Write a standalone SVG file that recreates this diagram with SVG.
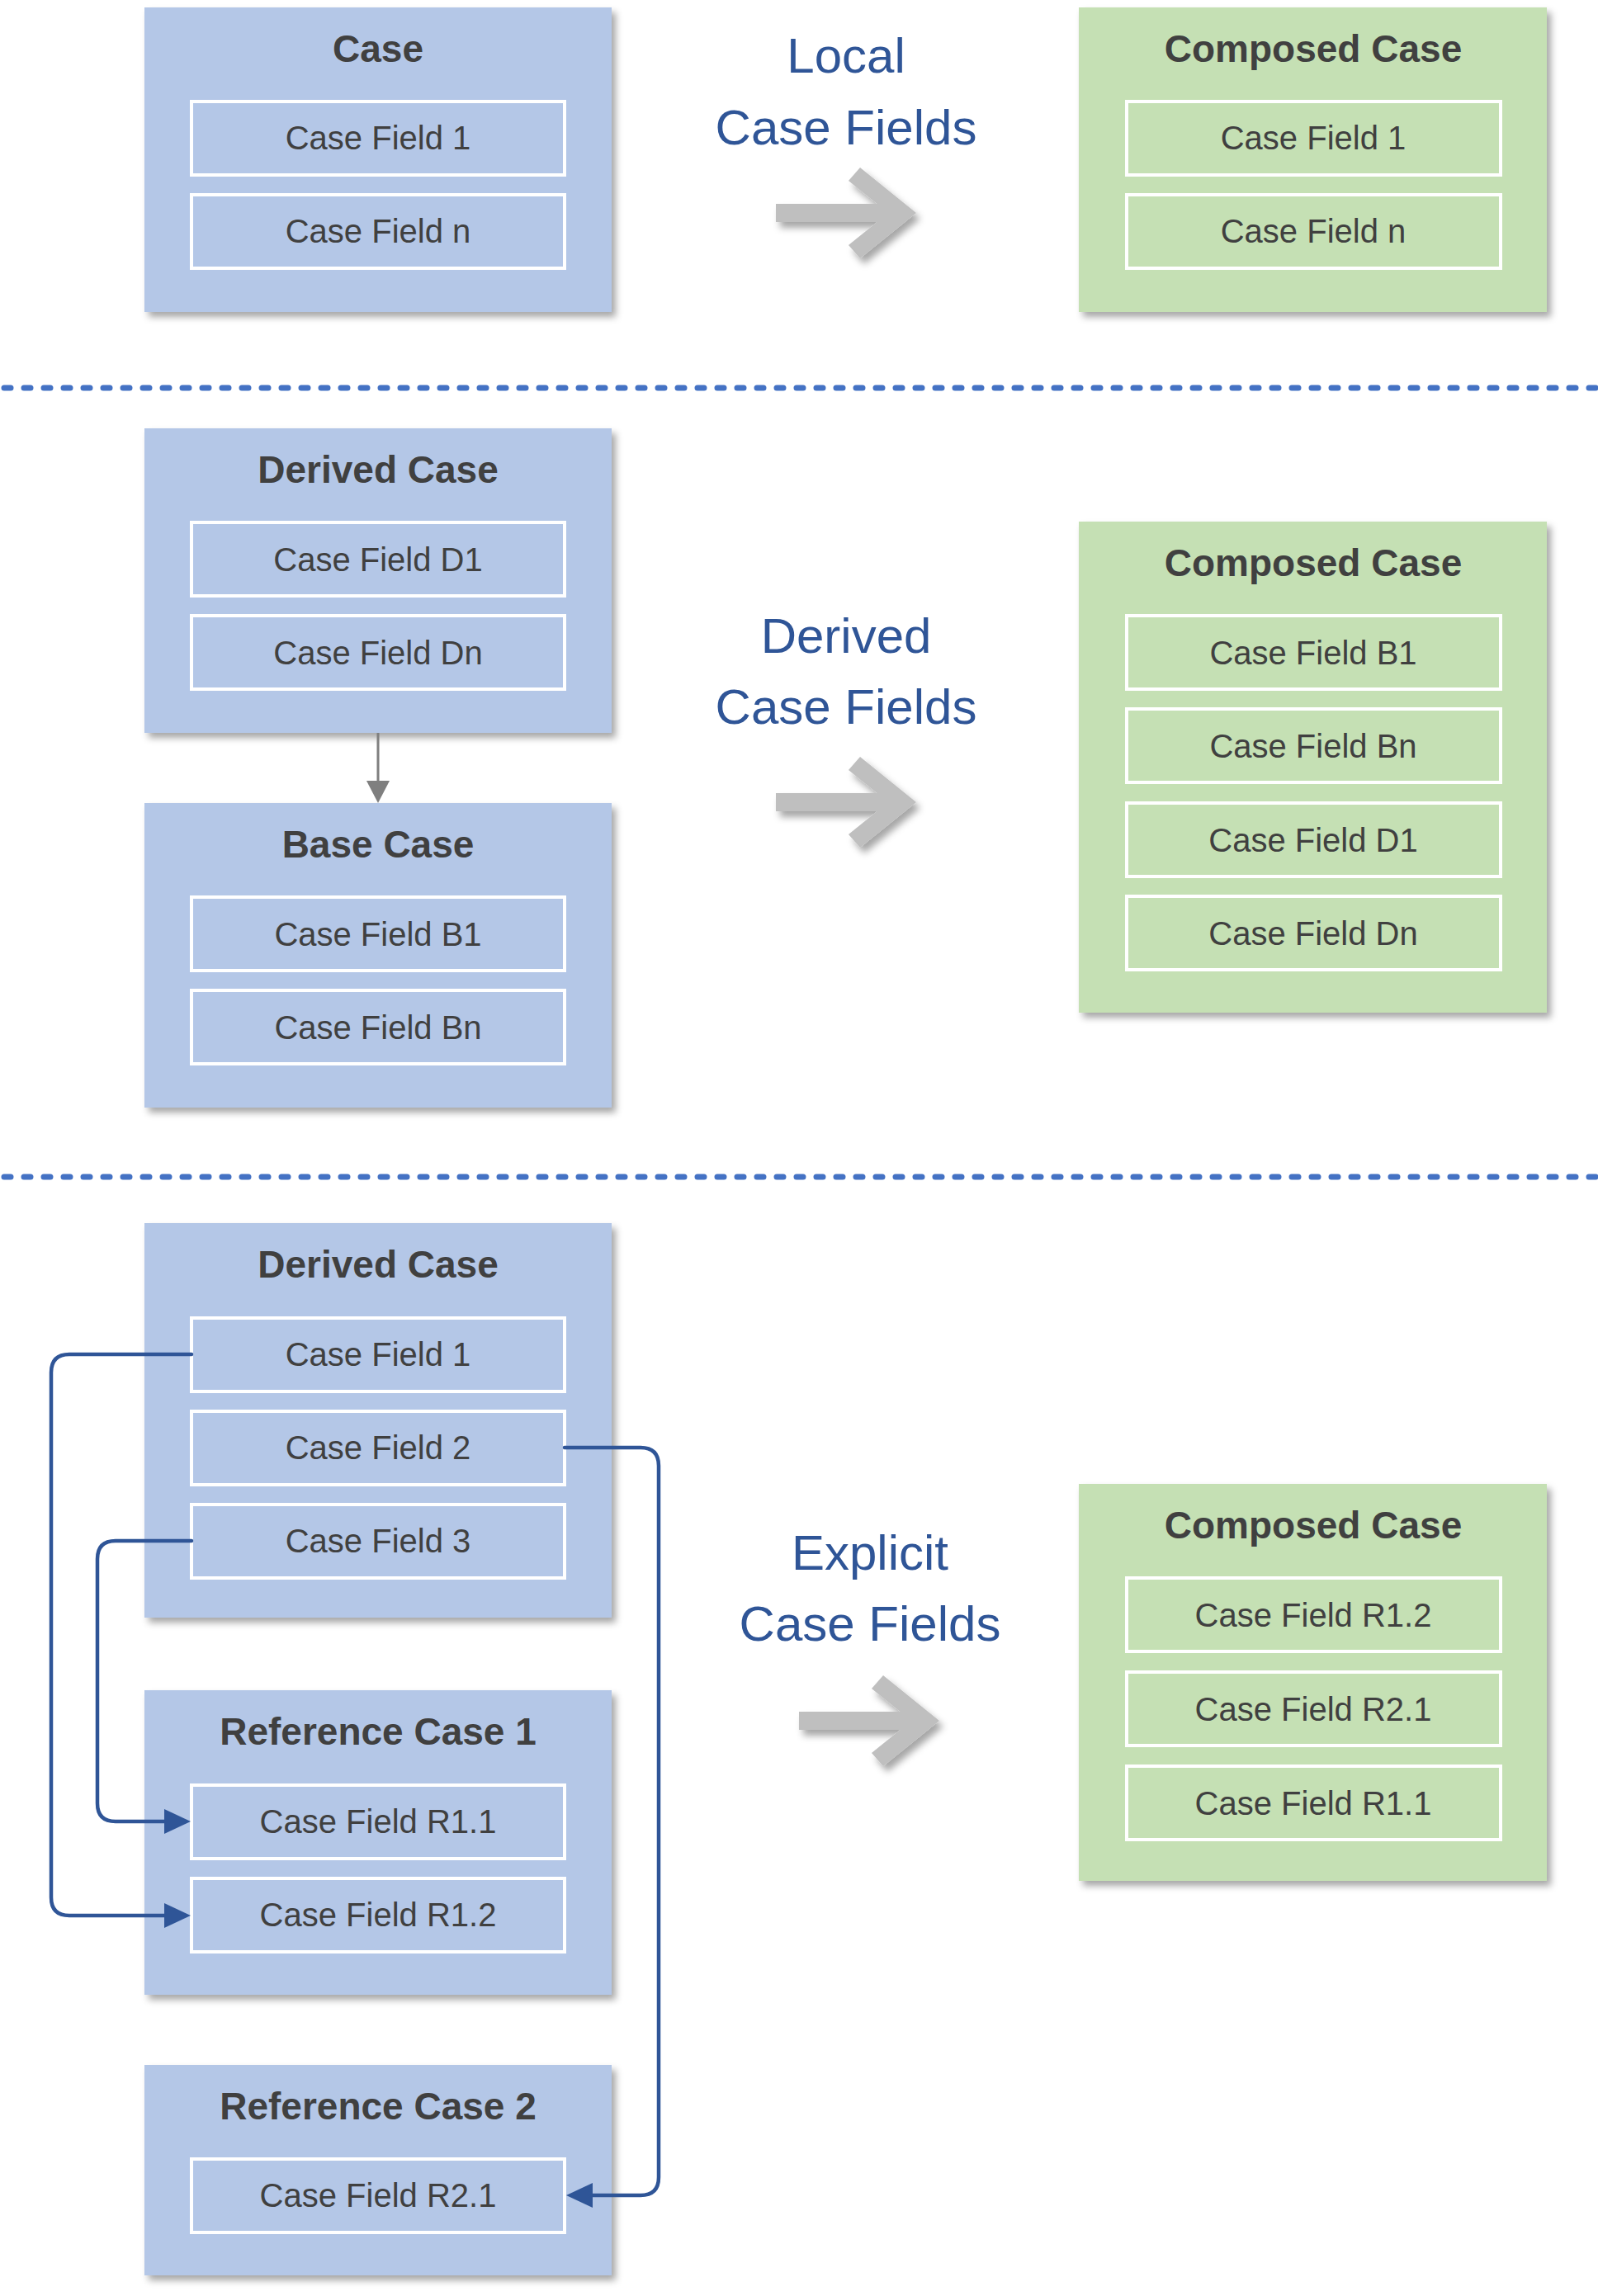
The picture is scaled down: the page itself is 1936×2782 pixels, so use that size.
<svg xmlns="http://www.w3.org/2000/svg" width="1936" height="2782" viewBox="0 0 1936 2782">
<style>
.bbox{fill:#B4C7E7;filter:url(#sh)}
.gbox{fill:#C5E0B4;filter:url(#sh)}
.fld{fill:none;stroke:#FFFFFF;stroke-width:4}
.ttl{font-family:"Liberation Sans",Arial,sans-serif;font-weight:bold;font-size:46px;fill:#404040;text-anchor:middle}
.ft{font-family:"Liberation Sans",Arial,sans-serif;font-size:40px;fill:#404040;text-anchor:middle}
.lbl{font-family:"Liberation Sans",Arial,sans-serif;font-size:60px;fill:#2F5597;text-anchor:middle}
.dot{stroke:#4472C4;stroke-width:7;stroke-linecap:round;stroke-dasharray:8 16;fill:none}
.bl{fill:none;stroke:#2F5597;stroke-width:4.5;stroke-linecap:round}
.bh{fill:#2F5597}
.big{fill:#BFBFBF;filter:url(#sh2)}
</style>
<defs>
<filter id="sh" x="-10%" y="-10%" width="125%" height="125%">
<feDropShadow dx="5" dy="6" stdDeviation="4" flood-color="#000" flood-opacity="0.35"/>
</filter>
<filter id="sh2" x="-20%" y="-20%" width="150%" height="150%">
<feDropShadow dx="5" dy="7" stdDeviation="4" flood-color="#000" flood-opacity="0.35"/>
</filter>
<path id="bigarrow" d="M940,247 H1062.6 L1028,219 L1042,203 L1110,258 L1042,313 L1028,297 L1062.6,269 H940 Z"/>
</defs>

<!-- separators -->
<g id="separators">
<line class="dot" x1="5" y1="470" x2="1936" y2="470"/>
<line class="dot" x1="5" y1="1426" x2="1936" y2="1426"/>
</g>

<!-- Section 1 -->
<g id="case">
<rect class="bbox" x="175" y="9" width="566" height="369"/>
<text class="ttl" x="458" y="75">Case</text>
<rect class="fld" x="232" y="123" width="452" height="89"/>
<text class="ft" x="458" y="181">Case Field 1</text>
<rect class="fld" x="232" y="236" width="452" height="89"/>
<text class="ft" x="458" y="294">Case Field n</text>
</g>
<g id="label-local">
<text class="lbl" x="1025" y="88">Local</text>
<text class="lbl" x="1025" y="175">Case Fields</text>
<use href="#bigarrow" class="big"/>
</g>
<g id="composed1">
<rect class="gbox" x="1307" y="9" width="567" height="369"/>
<text class="ttl" x="1591" y="75">Composed Case</text>
<rect class="fld" x="1365" y="123" width="453" height="89"/>
<text class="ft" x="1591" y="181">Case Field 1</text>
<rect class="fld" x="1365" y="236" width="453" height="89"/>
<text class="ft" x="1591" y="294">Case Field n</text>
</g>

<!-- Section 2 -->
<g id="derived1">
<rect class="bbox" x="175" y="519" width="566" height="369"/>
<text class="ttl" x="458" y="585">Derived Case</text>
<rect class="fld" x="232" y="633" width="452" height="89"/>
<text class="ft" x="458" y="692">Case Field D1</text>
<rect class="fld" x="232" y="746" width="452" height="89"/>
<text class="ft" x="458" y="805">Case Field Dn</text>
</g>
<g id="base">
<rect class="bbox" x="175" y="973" width="566" height="369"/>
<text class="ttl" x="458" y="1039">Base Case</text>
<rect class="fld" x="232" y="1087" width="452" height="89"/>
<text class="ft" x="458" y="1146">Case Field B1</text>
<rect class="fld" x="232" y="1200" width="452" height="89"/>
<text class="ft" x="458" y="1259">Case Field Bn</text>
</g>
<g id="label-derived">
<text class="lbl" x="1025" y="791">Derived</text>
<text class="lbl" x="1025" y="877">Case Fields</text>
<use href="#bigarrow" class="big" transform="translate(0,714)"/>
</g>
<g id="composed2">
<rect class="gbox" x="1307" y="632" width="567" height="595"/>
<text class="ttl" x="1591" y="698">Composed Case</text>
<rect class="fld" x="1365" y="746" width="453" height="89"/>
<text class="ft" x="1591" y="805">Case Field B1</text>
<rect class="fld" x="1365" y="859" width="453" height="89"/>
<text class="ft" x="1591" y="918">Case Field Bn</text>
<rect class="fld" x="1365" y="973" width="453" height="89"/>
<text class="ft" x="1591" y="1032">Case Field D1</text>
<rect class="fld" x="1365" y="1086" width="453" height="89"/>
<text class="ft" x="1591" y="1145">Case Field Dn</text>
</g>

<!-- Section 3 -->
<g id="derived2">
<rect class="bbox" x="175" y="1482" width="566" height="478"/>
<text class="ttl" x="458" y="1548">Derived Case</text>
<rect class="fld" x="232" y="1597" width="452" height="89"/>
<text class="ft" x="458" y="1655">Case Field 1</text>
<rect class="fld" x="232" y="1710" width="452" height="89"/>
<text class="ft" x="458" y="1768">Case Field 2</text>
<rect class="fld" x="232" y="1823" width="452" height="89"/>
<text class="ft" x="458" y="1881">Case Field 3</text>
</g>
<g id="ref1">
<rect class="bbox" x="175" y="2048" width="566" height="369"/>
<text class="ttl" x="458" y="2114">Reference Case 1</text>
<rect class="fld" x="232" y="2163" width="452" height="89"/>
<text class="ft" x="458" y="2221">Case Field R1.1</text>
<rect class="fld" x="232" y="2276" width="452" height="89"/>
<text class="ft" x="458" y="2334">Case Field R1.2</text>
</g>
<g id="ref2">
<rect class="bbox" x="175" y="2502" width="566" height="255"/>
<text class="ttl" x="458" y="2568">Reference Case 2</text>
<rect class="fld" x="232" y="2616" width="452" height="89"/>
<text class="ft" x="458" y="2674">Case Field R2.1</text>
</g>
<g id="label-explicit">
<text class="lbl" x="1054" y="1902">Explicit</text>
<text class="lbl" x="1054" y="1988">Case Fields</text>
<use href="#bigarrow" class="big" transform="translate(28,1827)"/>
</g>
<g id="composed3">
<rect class="gbox" x="1307" y="1798" width="567" height="481"/>
<text class="ttl" x="1591" y="1864">Composed Case</text>
<rect class="fld" x="1365" y="1912" width="453" height="89"/>
<text class="ft" x="1591" y="1971">Case Field R1.2</text>
<rect class="fld" x="1365" y="2026" width="453" height="89"/>
<text class="ft" x="1591" y="2085">Case Field R2.1</text>
<rect class="fld" x="1365" y="2140" width="453" height="89"/>
<text class="ft" x="1591" y="2199">Case Field R1.1</text>
</g>

<!-- connectors -->
<g id="connectors">
<line x1="458" y1="888" x2="458" y2="948" stroke="#7F7F7F" stroke-width="3"/>
<polygon points="444,946 472,946 458,973" fill="#7F7F7F"/>
<path class="bl" d="M232,1641 H84 Q62,1641 62,1663 V2299 Q62,2321 84,2321 H201"/>
<polygon class="bh" points="199,2306 231,2321 199,2336"/>
<path class="bl" d="M232,1867 H140 Q118,1867 118,1889 V2185 Q118,2207 140,2207 H201"/>
<polygon class="bh" points="199,2192 231,2207 199,2222"/>
<path class="bl" d="M684,1754 H776 Q798,1754 798,1776 V2638 Q798,2660 776,2660 H716"/>
<polygon class="bh" points="718,2645 686,2660 718,2675"/>
</g>
</svg>
